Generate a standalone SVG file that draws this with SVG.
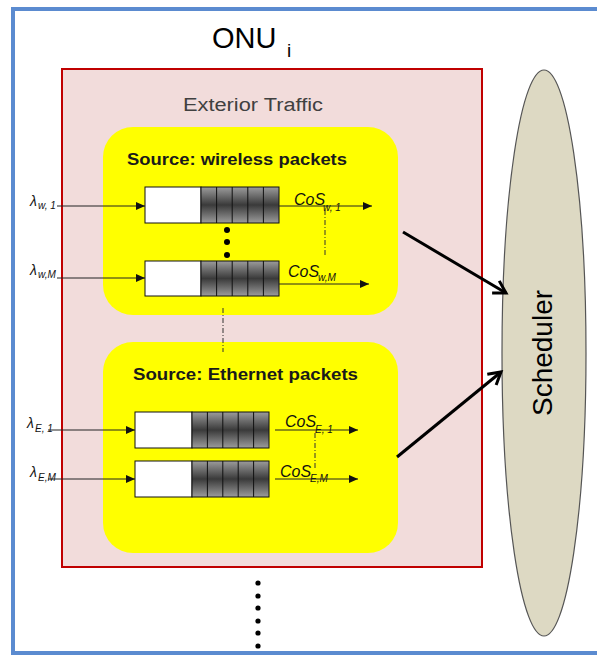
<svg xmlns="http://www.w3.org/2000/svg" width="597" height="655" viewBox="0 0 597 655">
<style>
.sans{font-family:"Liberation Sans",Arial,sans-serif}
.title{font-family:"Liberation Sans",Arial,sans-serif;font-weight:bold;font-size:17px;fill:#1a1a1a}
.lam{font-family:"Liberation Sans",Arial,sans-serif;font-style:italic;font-size:14px;fill:#111}
.sub{font-family:"Liberation Sans",Arial,sans-serif;font-style:italic;font-size:10px;fill:#111}
.cos{font-family:"Liberation Sans",Arial,sans-serif;font-style:italic;font-size:16px;fill:#111}
.white{fill:#ffffff;stroke:#111;stroke-width:1}
.cells{fill:url(#cellGrad);stroke:#111;stroke-width:1}
.div{stroke:#111;stroke-width:1}
.flow{stroke:#222;stroke-width:1;fill:none;marker-end:url(#small)}
.big{stroke:#000;stroke-width:3;fill:none;marker-end:url(#open)}
.dashdot{stroke:#333;stroke-width:1;stroke-dasharray:5 2 1 2;fill:none}
.dot{fill:#000}
</style>
<defs>
<linearGradient id="cellGrad" x1="0" y1="0" x2="0" y2="1">
<stop offset="0" stop-color="#9c9c9c"/>
<stop offset="0.5" stop-color="#3a3a3a"/>
<stop offset="1" stop-color="#9c9c9c"/>
</linearGradient>
<marker id="small" markerUnits="userSpaceOnUse" markerWidth="9" markerHeight="8" viewBox="0 0 9 8" refX="9" refY="4" orient="auto">
<path d="M0,0 L9,4 L0,8 Z" fill="#111"/>
</marker>
<marker id="open" markerUnits="userSpaceOnUse" markerWidth="18" markerHeight="18" viewBox="0 0 18 18" refX="15" refY="9" orient="auto">
<path d="M3,2 L15,9 L3,16" fill="none" stroke="#000" stroke-width="3"/>
</marker>
</defs>

<rect width="597" height="655" fill="#ffffff"/>

<g id="onu-frame">
<rect x="13" y="9" width="600" height="644" fill="#ffffff" stroke="#5b8bd0" stroke-width="4"/>
<text x="212" y="48" class="sans" font-size="29" fill="#000">ONU</text>
<text x="287" y="57" class="sans" font-size="19" fill="#000">i</text>
</g>

<g id="exterior-traffic">
<rect x="62" y="69" width="420" height="498" fill="#f2dcdb" stroke="#c00000" stroke-width="2"/>
<text x="253" y="111" class="sans" font-size="18" fill="#404040" text-anchor="middle" textLength="140" lengthAdjust="spacingAndGlyphs">Exterior Traffic</text>
</g>

<g id="source-wireless">
<rect x="103" y="127" width="295" height="188" rx="30" ry="30" fill="#ffff00"/>
<text x="127" y="165" class="title" textLength="220" lengthAdjust="spacingAndGlyphs">Source: wireless packets</text>
</g>

<g id="source-ethernet">
<rect x="103" y="342" width="295" height="211" rx="30" ry="30" fill="#ffff00"/>
<text x="133" y="380" class="title" textLength="225" lengthAdjust="spacingAndGlyphs">Source: Ethernet packets</text>
</g>

<g id="queue-w1">
<rect x="145" y="187" width="56" height="36" class="white"/>
<rect x="201" y="187" width="78" height="36" class="cells"/>
<path d="M216.6,187V223M232.2,187V223M247.8,187V223M263.4,187V223" class="div"/>
<text x="30" y="206" class="lam">λ</text>
<text x="38" y="209" class="sub">w, 1</text>
<text x="294" y="205" class="cos">CoS</text>
<text x="323" y="211" class="sub">w, 1</text>
</g>

<g id="queue-wM">
<rect x="145" y="261" width="56" height="35" class="white"/>
<rect x="201" y="261" width="78" height="35" class="cells"/>
<path d="M216.6,261V296M232.2,261V296M247.8,261V296M263.4,261V296" class="div"/>
<text x="30" y="275" class="lam">λ</text>
<text x="38" y="278" class="sub">w,M</text>
<text x="288" y="277" class="cos">CoS</text>
<text x="318" y="281" class="sub">w,M</text>
</g>

<g id="wireless-dots">
<circle cx="227" cy="230" r="3" class="dot"/>
<circle cx="227" cy="242" r="3" class="dot"/>
<circle cx="227" cy="255" r="3" class="dot"/>
</g>

<g id="queue-e1">
<rect x="135" y="412" width="57" height="36" class="white"/>
<rect x="192" y="412" width="77" height="36" class="cells"/>
<path d="M207.4,412V448M222.8,412V448M238.2,412V448M253.6,412V448" class="div"/>
<text x="27" y="428" class="lam">λ</text>
<text x="35" y="432" class="sub">E, 1</text>
<text x="285" y="427" class="cos">CoS</text>
<text x="315" y="433" class="sub">E, 1</text>
</g>

<g id="queue-eM">
<rect x="135" y="461" width="57" height="36" class="white"/>
<rect x="192" y="461" width="77" height="36" class="cells"/>
<path d="M207.4,461V497M222.8,461V497M238.2,461V497M253.6,461V497" class="div"/>
<text x="30" y="477" class="lam">λ</text>
<text x="38" y="481" class="sub">E,M</text>
<text x="280" y="477" class="cos">CoS</text>
<text x="310" y="482" class="sub">E,M</text>
</g>

<g id="more-onus">
<circle cx="258" cy="583" r="2.6" class="dot"/>
<circle cx="258" cy="596" r="2.6" class="dot"/>
<circle cx="258" cy="608" r="2.6" class="dot"/>
<circle cx="258" cy="621" r="2.6" class="dot"/>
<circle cx="258" cy="633" r="2.6" class="dot"/>
<circle cx="258" cy="646" r="2.6" class="dot"/>
</g>

<g id="scheduler">
<ellipse cx="544" cy="353" rx="42" ry="283" fill="#ddd9c3" stroke="#555" stroke-width="1.2"/>
<text transform="translate(552,353) rotate(-90)" class="sans" font-size="28" fill="#000" text-anchor="middle">Scheduler</text>
</g>

<g id="connectors">
<line x1="57" y1="206" x2="145" y2="206" class="flow"/>
<line x1="57" y1="278" x2="145" y2="278" class="flow"/>
<line x1="48" y1="430" x2="135" y2="430" class="flow"/>
<line x1="48" y1="479" x2="135" y2="479" class="flow"/>
<line x1="279" y1="206" x2="372" y2="206" class="flow"/>
<line x1="279" y1="284" x2="369" y2="284" class="flow"/>
<line x1="275" y1="430" x2="358" y2="430" class="flow"/>
<line x1="275" y1="479" x2="358" y2="479" class="flow"/>
<line x1="325" y1="210" x2="325" y2="256" class="dashdot"/>
<line x1="223" y1="308" x2="223" y2="352" class="dashdot"/>
<line x1="315" y1="433" x2="315" y2="470" class="dashdot"/>
<line x1="403" y1="232" x2="506" y2="293" class="big"/>
<line x1="397" y1="457" x2="501" y2="372" class="big"/>
</g>
</svg>
